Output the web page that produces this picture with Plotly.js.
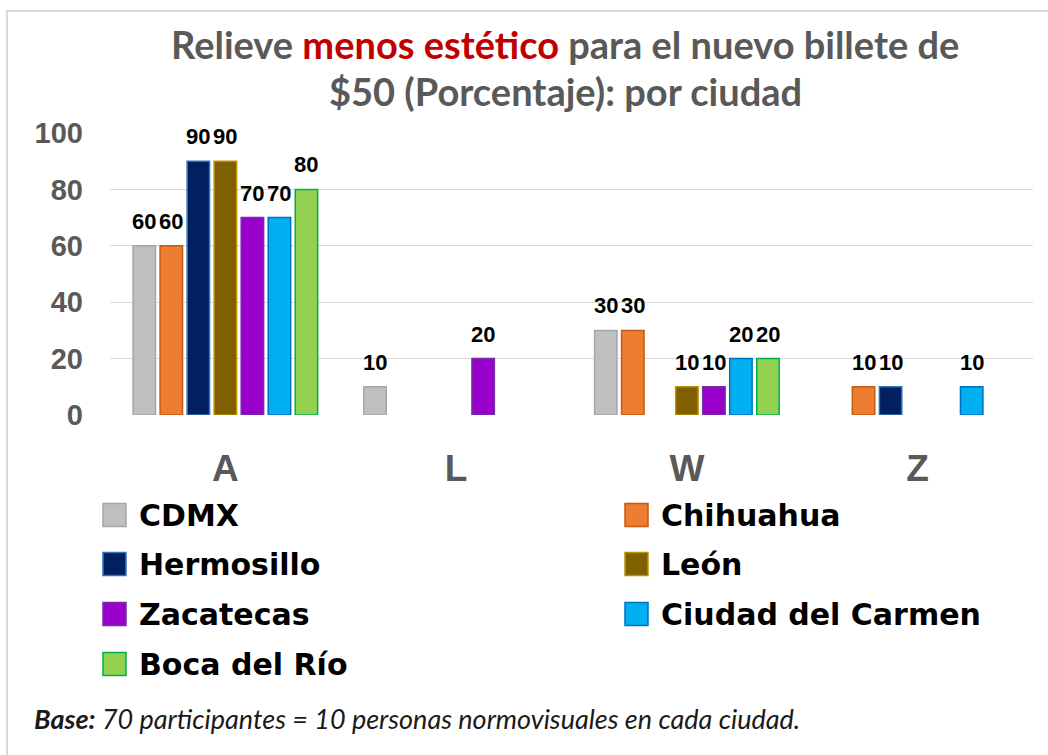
<!DOCTYPE html>
<html>
<head>
<meta charset="utf-8">
<script src="https://cdn.plot.ly/plotly-3.0.1.min.js"></script>
<style>
  html, body { margin: 0; padding: 0; background: #fff; }
  #chart { width: 1048px; height: 755px; }
</style>
</head>
<body>
<div id="chart"></div>
<script>
// ---------- DATA ----------
const categories = ['A', 'L', 'W', 'Z'];
const seriesNames = ['CDMX', 'Chihuahua', 'Hermosillo', 'León', 'Zacatecas', 'Ciudad del Carmen', 'Boca del Río'];
const cdmx       = [60, 10, 30, 0];
const chihuahua  = [60, 0, 30, 10];
const hermosillo = [90, 0, 0, 10];
const leon       = [90, 0, 10, 0];
const zacatecas  = [70, 20, 10, 0];
const carmen     = [70, 0, 20, 10];
const boca       = [80, 0, 20, 0];
const seriesValues = [cdmx, chihuahua, hermosillo, leon, zacatecas, carmen, boca];
const yTickVals = [0, 20, 40, 60, 80, 100];
const titleLine1 = "Relieve <span style='color:#C00000'>menos estético</span> para el nuevo billete de";
const titleLine2 = "$50 (Porcentaje): por ciudad";
const footnote = "<b><i>Base:</i></b><i> 70 participantes = 10 personas normovisuales en cada ciudad.</i>";

// ---------- STYLE ----------
const fillColors = ['#BFBFBF', '#ED7D31', '#002060', '#7F6000', '#9900CC', '#00B0F0', '#92D050'];
const lineColors = ['#A6A6A6', '#C55A11', '#2E75B6', '#BF9000', '#7030A0', '#0070C0', '#00B050'];

const W = 1048, H = 755;
const M = { l: 110, r: 15, t: 133, b: 340 };
const plotW = W - M.l - M.r, plotH = H - M.t - M.b;
const BARGAP = 0.18, BARGROUPGAP = 0.17;
const nSeries = seriesNames.length;
const slotPx = (plotW / categories.length) * (1 - BARGAP) / nSeries;

const px2x = px => (px - M.l) / plotW;
const px2y = py => (H - M.b - py) / plotH;

// ---------- TRACES ----------
const traces = seriesNames.map((name, i) => ({
  type: 'bar',
  name: name,
  x: categories,
  y: seriesValues[i].map(v => v === 0 ? null : v),
  marker: { color: fillColors[i], line: { color: lineColors[i], width: 1.5 } },
  hoverinfo: 'x+y+name'
}));

// ---------- ANNOTATIONS ----------
const annotations = [];
// value labels above bars
seriesValues.forEach((vals, i) => {
  vals.forEach((v, j) => {
    if (v > 0) {
      annotations.push({
        x: categories[j], y: v, xref: 'x', yref: 'y',
        xshift: (i - (nSeries - 1) / 2) * slotPx,
        yshift: 11,
        yanchor: 'bottom', xanchor: 'center',
        text: String(v), showarrow: false, borderpad: 0,
        font: { family: 'Liberation Sans, Arial, sans-serif', size: 22, color: '#000000', weight: 'bold' }
      });
    }
  });
});

// title (two lines)
annotations.push({
  xref: 'paper', yref: 'paper', x: px2x(565), y: px2y(44), xanchor: 'center', yanchor: 'middle',
  text: '<b>' + titleLine1 + '</b>', showarrow: false,
  font: { family: 'Lato, Open Sans, sans-serif', size: 38, color: '#595959' }
});
annotations.push({
  xref: 'paper', yref: 'paper', x: px2x(565), y: px2y(91), xanchor: 'center', yanchor: 'middle',
  text: '<b>' + titleLine2 + '</b>', showarrow: false,
  font: { family: 'Lato, Open Sans, sans-serif', size: 38, color: '#595959' }
});

// footnote
annotations.push({
  xref: 'paper', yref: 'paper', x: px2x(32), y: px2y(718), xanchor: 'left', yanchor: 'middle',
  text: footnote, showarrow: false,
  font: { family: 'Lato, Open Sans, sans-serif', size: 27, color: '#1a1a1a' }
});

// legend (two columns, row-major order)
const shapes = [];
const legColX = [103, 625];
const legRowY = [515, 564, 614, 664];
const legSq = 23;
seriesNames.forEach((name, i) => {
  const cx = legColX[i % 2], cy = legRowY[Math.floor(i / 2)];
  shapes.push({
    type: 'rect', xref: 'paper', yref: 'paper',
    x0: px2x(cx), x1: px2x(cx + legSq), y0: px2y(cy - legSq / 2), y1: px2y(cy + legSq / 2),
    fillcolor: fillColors[i], line: { color: lineColors[i], width: 1.5 }
  });
  annotations.push({
    xref: 'paper', yref: 'paper', x: px2x(cx + 34), y: px2y(cy), xanchor: 'left', yanchor: 'middle',
    text: '<b>' + name + '</b>', showarrow: false,
    font: { family: 'DejaVu Sans, sans-serif', size: 30, color: '#000000' }
  });
});

// outer frame
shapes.push({
  type: 'path', xref: 'paper', yref: 'paper',
  path: `M ${px2x(7)} ${px2y(760)} L ${px2x(7)} ${px2y(11)} L ${px2x(1060)} ${px2y(11)}`,
  line: { color: '#D9D9D9', width: 2 }
});

const layout = {
  width: W, height: H,
  margin: M,
  paper_bgcolor: '#ffffff', plot_bgcolor: '#ffffff',
  barmode: 'group', bargap: BARGAP, bargroupgap: BARGROUPGAP,
  showlegend: false,
  xaxis: {
    type: 'category', categoryarray: categories,
    showgrid: false, showline: false, zeroline: false, ticks: '',
    ticklabelstandoff: 28,
    tickfont: { family: 'Liberation Sans, Arial, sans-serif', size: 37, color: '#595959', weight: 'bold' }
  },
  yaxis: {
    range: [0, 100], tickvals: yTickVals, showgrid: true, gridcolor: '#D9D9D9', gridwidth: 1,
    zeroline: false, showline: false, ticks: '', ticklabelstandoff: 26,
    tickfont: { family: 'Liberation Sans, Arial, sans-serif', size: 29, color: '#595959', weight: 'bold' },
    fixedrange: true
  },
  annotations: annotations,
  shapes: shapes
};

Plotly.newPlot('chart', traces, layout, { displayModeBar: false, staticPlot: true });
</script>
</body>
</html>
